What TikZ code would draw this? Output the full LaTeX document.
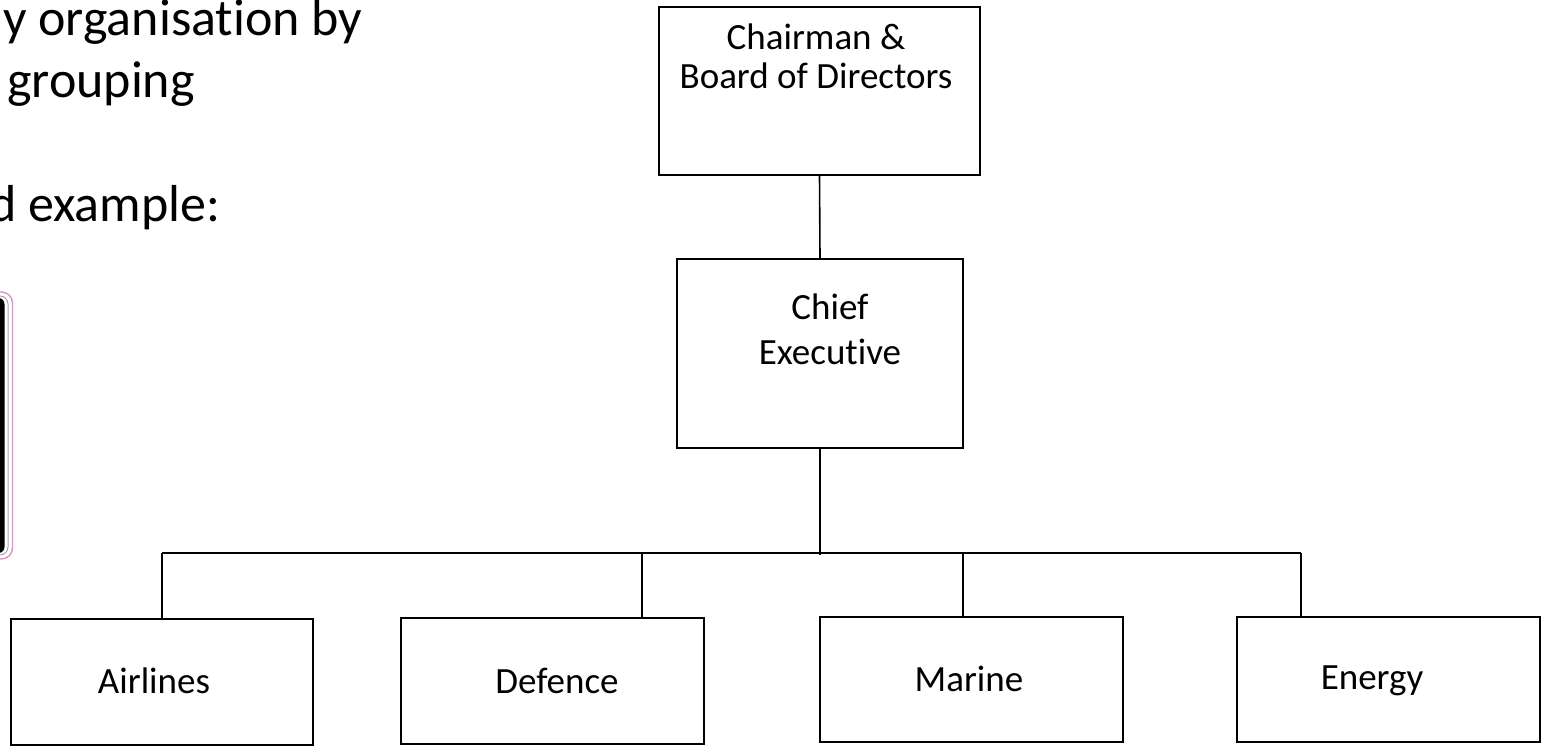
\documentclass[tikz,border=0pt]{standalone}
\usepackage{fontspec}
\setmainfont{Carlito}[Ligatures=NoCommon]
\definecolor{framepink}{RGB}{214,150,200}
\tikzset{
  unitbox/.style={draw=black, line width=1.6pt, fill=white, inner sep=0pt},
  boxtext/.style={inner sep=0pt, align=center, font=\fontsize{37}{45}\selectfont},
  headtext/.style={inner sep=0pt, anchor=base west, font=\fontsize{52}{63}\selectfont},
  link/.style={draw=black, line width=1.6pt}
}
\begin{document}
\begin{tikzpicture}[x=1pt, y=-1pt]
\useasboundingbox (0,0) rectangle (1545,746);
\clip (0,0) rectangle (1545,746);
\fill[white] (0,0) rectangle (1545,746);

% heading text running in from the left
\node[headtext] (h1) at (3,36) {y organisation by};
\node[headtext] (h2) at (7,98) {grouping};
\node[headtext] (h3) at (-11,222) {d example:};

% edge of the framed picture on the left
\draw[framepink, line width=1.4pt, fill=white, rounded corners=11pt] (-40,292) rectangle (12.5,559);
\draw[black!35, line width=1pt, rounded corners=8pt] (-40,296) rectangle (8,555);
\fill[black, rounded corners=6pt] (-40,298) rectangle (4.5,553);

% boxes
\node[unitbox, minimum width=321pt, minimum height=168pt] (chair) at (819.5,91) {};
\node[boxtext, anchor=north, font=\fontsize{37}{39}\selectfont] (chairtxt) at (816,24) {Chairman \&\\Board of Directors};

\node[unitbox, minimum width=286pt, minimum height=189pt] (chief) at (820,353.5) {};
\node[boxtext, anchor=north] (chieftxt) at (830,294) {Chief\\Executive};

\node[unitbox, minimum width=302pt, minimum height=126pt] (air) at (162,682) {};
\node[boxtext, anchor=base] (airtxt) at (154,693) {Airlines};

\node[unitbox, minimum width=303pt, minimum height=126pt] (def) at (552.5,681) {};
\node[boxtext, anchor=base] (deftxt) at (557,693) {Defence};

\node[unitbox, minimum width=303pt, minimum height=125pt] (mar) at (971.5,679.5) {};
\node[boxtext, anchor=base] (martxt) at (969,691) {Marine};

\node[unitbox, minimum width=303pt, minimum height=125pt] (ene) at (1388.5,679.5) {};
\node[boxtext, anchor=base] (enetxt) at (1372,689) {Energy};

% bus line and drop points
\coordinate (busL) at (162,553);
\coordinate (busR) at (1301,553);
\coordinate (dropA) at (162,553);
\coordinate (dropD) at (642,553);
\coordinate (dropM) at (963,553);
\coordinate (dropE) at (1301,553);
\coordinate (busC) at (820,555);

% connectors
\draw[link] (chair.south) -- (chief.north);
\draw[link] (chief.south) -- (busC);
\draw[link] (busL) -- (busR);
\draw[link] (dropA) -- (dropA |- air.north);
\draw[link] (dropD) -- (dropD |- def.north);
\draw[link] (dropM) -- (dropM |- mar.north);
\draw[link] (dropE) -- (dropE |- ene.north);
\end{tikzpicture}
\end{document}
